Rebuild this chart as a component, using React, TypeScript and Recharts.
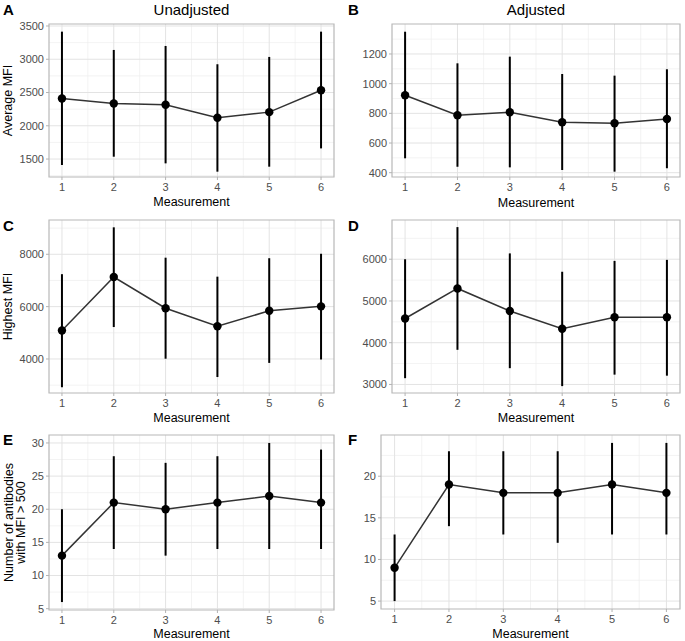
import React from "react";
import {
  ComposedChart,
  Line,
  XAxis,
  YAxis,
  CartesianGrid,
  ErrorBar,
  ReferenceArea,
} from "recharts";

// ---------- data ----------
const measurement = [1, 2, 3, 4, 5, 6];
const xTicks = [1, 2, 3, 4, 5, 6];
const xMinor = [1.5, 2.5, 3.5, 4.5, 5.5];

const avgUnadjMean = [2410, 2335, 2315, 2120, 2205, 2535];
const avgUnadjLow = [1410, 1535, 1435, 1310, 1385, 1660];
const avgUnadjHigh = [3415, 3140, 3200, 2925, 3035, 3415];

const avgAdjMean = [922, 787, 807, 740, 733, 762];
const avgAdjLow = [497, 440, 436, 418, 407, 430];
const avgAdjHigh = [1350, 1137, 1182, 1065, 1054, 1097];

const highUnadjMean = [5090, 7130, 5940, 5250, 5840, 6010];
const highUnadjLow = [2920, 5220, 4010, 3310, 3850, 3980];
const highUnadjHigh = [7240, 9030, 7870, 7145, 7850, 8020];

const highAdjMean = [4580, 5300, 4760, 4335, 4610, 4610];
const highAdjLow = [3150, 3830, 3390, 2960, 3235, 3210];
const highAdjHigh = [6000, 6770, 6140, 5700, 5960, 5985];

const countUnadjMean = [13, 21, 20, 21, 22, 21];
const countUnadjLow = [6, 14, 13, 14, 14, 14];
const countUnadjHigh = [20, 28, 27, 28, 30, 29];

const countAdjMean = [9, 19, 18, 18, 19, 18];
const countAdjLow = [5, 14, 13, 12, 13, 13];
const countAdjHigh = [13, 23, 23, 23, 24, 24];

const ticksA = [1500, 2000, 2500, 3000, 3500];
const minorA = [1250, 1750, 2250, 2750, 3250];
const ticksB = [400, 600, 800, 1000, 1200];
const minorB = [500, 700, 900, 1100, 1300];
const ticksC = [4000, 6000, 8000];
const minorC = [3000, 5000, 7000, 9000];
const ticksD = [3000, 4000, 5000, 6000];
const minorD = [3500, 4500, 5500, 6500];
const ticksE = [5, 10, 15, 20, 25, 30];
const minorE = [7.5, 12.5, 17.5, 22.5, 27.5];
const ticksF = [5, 10, 15, 20];
const minorF = [7.5, 12.5, 17.5, 22.5];

const build = (mean: number[], low: number[], high: number[]) =>
  measurement.map((x, i) => ({
    x,
    y: mean[i],
    err: [mean[i] - low[i], high[i] - mean[i]],
  }));

// ---------- layout constants ----------
const FONT = "'Liberation Sans', Arial, sans-serif";
const YW = 45;
const MT = 5;
const MR = 4;
const XH = 22;
const XDOMAIN: [number, number] = [0.75, 6.25];

type PanelProps = {
  l: number;
  t: number;
  r: number;
  b: number;
  data: { x: number; y: number; err: number[] }[];
  domain: [number, number];
  ticks: number[];
  minor: number[];
};

const Panel = ({ l, t, r, b, data, domain, ticks, minor }: PanelProps) => {
  const width = r - l + YW + MR;
  const height = b - t + MT + XH;
  return (
    <div style={{ position: "absolute", left: l - YW, top: t - MT }}>
      <ComposedChart
        width={width}
        height={height}
        data={data}
        margin={{ top: MT, right: MR, bottom: 0, left: 0 }}
      >
        <CartesianGrid
          horizontalValues={minor}
          verticalValues={xMinor}
          stroke="#eeeeee"
          strokeWidth={0.7}
        />
        <CartesianGrid
          horizontalValues={ticks}
          verticalValues={xTicks}
          stroke="#e3e3e3"
          strokeWidth={1}
        />
        <XAxis
          type="number"
          dataKey="x"
          domain={XDOMAIN}
          ticks={xTicks}
          allowDataOverflow
          interval={0}
          height={XH}
          axisLine={false}
          tickLine={{ stroke: "#b3b3b3" }}
          tickSize={3}
          tickMargin={3}
          tick={{ fill: "#4d4d4d", fontSize: 11, fontFamily: FONT }}
        />
        <YAxis
          type="number"
          domain={domain}
          ticks={ticks}
          allowDataOverflow
          interval={0}
          width={YW}
          axisLine={false}
          tickLine={{ stroke: "#b3b3b3" }}
          tickSize={3}
          tickMargin={2}
          tick={{ fill: "#4d4d4d", fontSize: 11, fontFamily: FONT }}
        />
        <ReferenceArea
          x1={XDOMAIN[0]}
          x2={XDOMAIN[1]}
          y1={domain[0]}
          y2={domain[1]}
          fill="none"
          fillOpacity={0}
          stroke="#b8b8b8"
          strokeWidth={1.2}
          ifOverflow="visible"
        />
        <Line
          type="linear"
          dataKey="y"
          stroke="#333333"
          strokeWidth={1.5}
          dot={{ r: 4.2, fill: "#000", stroke: "#000", strokeWidth: 0 }}
          activeDot={false}
          isAnimationActive={false}
        >
          <ErrorBar
            dataKey="err"
            direction="y"
            width={0}
            stroke="#000"
            strokeWidth={2}
            isAnimationActive={false}
          />
        </Line>
      </ComposedChart>
    </div>
  );
};

const labelStyle = {
  fontFamily: FONT,
  fill: "#000",
} as const;

export default function App() {
  return (
    <div
      style={{
        position: "absolute",
        left: 0,
        top: 0,
        width: 685,
        height: 641,
        background: "#fff",
        overflow: "hidden",
      }}
    >
      <Panel l={49} t={24} r={334} b={177} data={build(avgUnadjMean, avgUnadjLow, avgUnadjHigh)} domain={[1230, 3530]} ticks={ticksA} minor={minorA} />
      <Panel l={392} t={24} r={680} b={177} data={build(avgAdjMean, avgAdjLow, avgAdjHigh)} domain={[371, 1402]} ticks={ticksB} minor={minorB} />
      <Panel l={49} t={220} r={334} b={393} data={build(highUnadjMean, highUnadjLow, highUnadjHigh)} domain={[2700, 9310]} ticks={ticksC} minor={minorC} />
      <Panel l={392} t={220} r={680} b={393} data={build(highAdjMean, highAdjLow, highAdjHigh)} domain={[2795, 6940]} ticks={ticksD} minor={minorD} />
      <Panel l={49} t={435} r={334} b={610} data={build(countUnadjMean, countUnadjLow, countUnadjHigh)} domain={[4.8, 31.2]} ticks={ticksE} minor={minorE} />
      <Panel l={381} t={435} r={680} b={609} data={build(countAdjMean, countAdjLow, countAdjHigh)} domain={[4.05, 24.95]} ticks={ticksF} minor={minorF} />

      <svg
        width={685}
        height={641}
        style={{ position: "absolute", left: 0, top: 0, pointerEvents: "none" }}
      >
        {/* panel letters */}
        <text x={3} y={15} fontSize={15} fontWeight="bold" {...labelStyle}>A</text>
        <text x={348} y={14.5} fontSize={15} fontWeight="bold" {...labelStyle}>B</text>
        <text x={3} y={230.5} fontSize={15} fontWeight="bold" {...labelStyle}>C</text>
        <text x={348} y={230.5} fontSize={15} fontWeight="bold" {...labelStyle}>D</text>
        <text x={3} y={445} fontSize={15} fontWeight="bold" {...labelStyle}>E</text>
        <text x={348} y={445} fontSize={15} fontWeight="bold" {...labelStyle}>F</text>

        {/* column titles */}
        <text x={191.5} y={15} fontSize={15} textAnchor="middle" {...labelStyle}>Unadjusted</text>
        <text x={536} y={14.5} fontSize={15} textAnchor="middle" {...labelStyle}>Adjusted</text>

        {/* x axis titles */}
        <text x={191.5} y={206} fontSize={12.5} textAnchor="middle" {...labelStyle}>Measurement</text>
        <text x={536} y={206.5} fontSize={12.5} textAnchor="middle" {...labelStyle}>Measurement</text>
        <text x={191.5} y={421.5} fontSize={12.5} textAnchor="middle" {...labelStyle}>Measurement</text>
        <text x={536} y={421.5} fontSize={12.5} textAnchor="middle" {...labelStyle}>Measurement</text>
        <text x={191.5} y={638} fontSize={12.5} textAnchor="middle" {...labelStyle}>Measurement</text>
        <text x={530.5} y={638} fontSize={12.5} textAnchor="middle" {...labelStyle}>Measurement</text>

        {/* y axis titles */}
        <text transform="translate(11.5,100.5) rotate(-90)" fontSize={12.5} textAnchor="middle" {...labelStyle}>Average MFI</text>
        <text transform="translate(11.5,306.5) rotate(-90)" fontSize={12.5} textAnchor="middle" {...labelStyle}>Highest MFI</text>
        <text transform="translate(12.5,522.5) rotate(-90)" fontSize={12.5} textAnchor="middle" {...labelStyle}>Number of antibodies</text>
        <text transform="translate(25,522.5) rotate(-90)" fontSize={12.5} textAnchor="middle" {...labelStyle}>with MFI &gt; 500</text>
      </svg>
    </div>
  );
}
